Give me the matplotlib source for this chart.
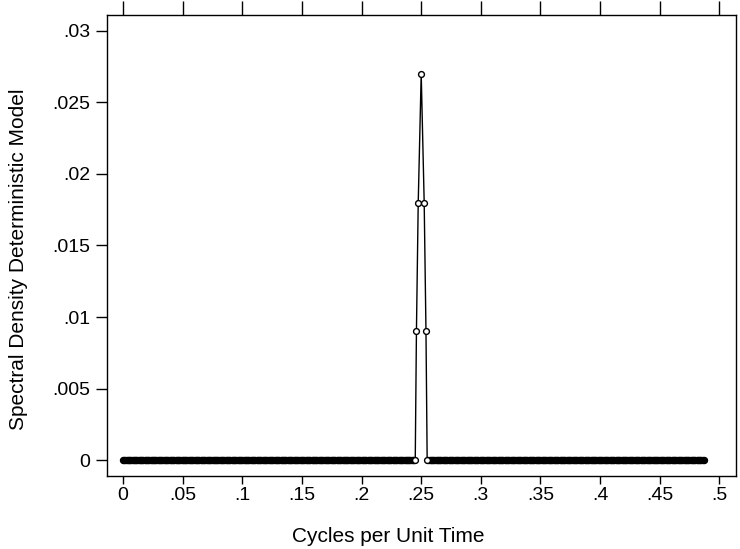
import matplotlib
matplotlib.use("Agg")

import matplotlib.pyplot as plt
import numpy as np
from matplotlib.ticker import FuncFormatter

plt.rcParams["font.family"] = ["Liberation Sans", "DejaVu Sans"]

# baseline frequencies (density 0), dense grid
freq_step = 0.001
freq_low = np.arange(0.0, 0.2445, freq_step)
freq_high = np.arange(0.256, 0.4876, freq_step)

# the spike around .25
peak_freq = [0.245, 0.246, 0.2475, 0.25, 0.2525, 0.254, 0.255]
peak_dens = [0.0, 0.009, 0.018, 0.027, 0.018, 0.009, 0.0]

freq = np.concatenate([freq_low, peak_freq, freq_high])
dens = np.concatenate([np.zeros(len(freq_low)), peak_dens, np.zeros(len(freq_high))])
base_freq = np.concatenate([freq_low, freq_high])
base_dens = np.zeros(len(base_freq))

x_ticks = [0, 0.05, 0.1, 0.15, 0.2, 0.25, 0.3, 0.35, 0.4, 0.45, 0.5]
y_ticks = [0, 0.005, 0.01, 0.015, 0.02, 0.025, 0.03]


def stata_fmt(v, pos):
    if abs(v) < 1e-12:
        return "0"
    s = f"{v:g}"
    return s[1:] if s.startswith("0.") else s


fig = plt.figure(figsize=(7.4, 5.49), dpi=100)
ax = fig.add_axes([0.1446, 0.133, 0.85, 0.8397])

ax.plot(freq, dens, color="black", lw=1.0)
# markers on the zero line are so dense they merge into a solid band
ax.plot(base_freq, base_dens, ls="none", marker="o", ms=4.3,
        mfc="black", mec="black", mew=1.0)
ax.plot(peak_freq, peak_dens, ls="none", marker="o", ms=4.2,
        mfc="white", mec="black", mew=1.0)

ax.set_xlim(-0.0135, 0.514)
ax.set_ylim(-0.0011, 0.0311)
ax.set_xticks(x_ticks)
ax.set_yticks(y_ticks)
ax.xaxis.set_major_formatter(FuncFormatter(stata_fmt))
ax.yaxis.set_major_formatter(FuncFormatter(stata_fmt))
ax.tick_params(axis="x", direction="out", length=6, width=1, labelsize=14,
               top=True, pad=2)
ax.tick_params(axis="y", direction="out", length=8, width=1, labelsize=14,
               right=False, pad=4)
for t in ax.xaxis.get_major_ticks():
    t.tick2line.set_markersize(10)

for sp in ax.spines.values():
    sp.set_linewidth(1.0)
    sp.set_color("black")

ax.set_xlabel("Cycles per Unit Time", fontsize=15)
ax.set_ylabel("Spectral Density Deterministic Model", fontsize=15)
ax.xaxis.set_label_coords(0.447, -0.132)
ax.yaxis.set_label_coords(-0.141, 0.471)
ax.xaxis.label.set_va("center")
ax.yaxis.label.set_va("center")

fig.savefig("out.png", dpi=100)
